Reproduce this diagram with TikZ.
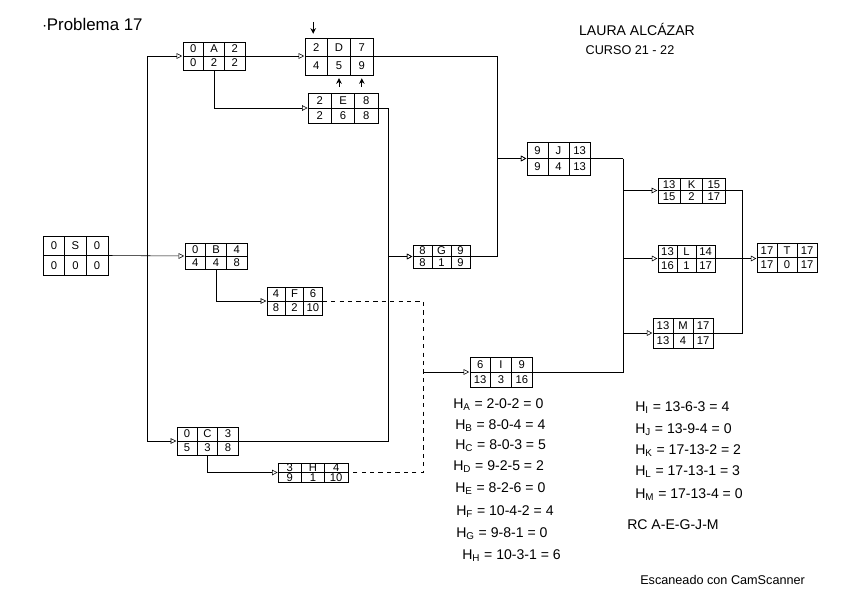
\documentclass[tikz,border=0pt]{standalone}
\usepackage{fontspec}
\setmainfont{Liberation Sans}
\usepackage{tikz}
\usetikzlibrary{positioning,arrows.meta,calc,matrix}
\tikzset{
  act/.style 2 args={matrix of nodes,inner sep=0pt,column sep=-\pgflinewidth,row sep=-\pgflinewidth,
    nodes={draw,thin,inner sep=0pt,minimum width=#1mm,minimum height=#2mm,font=\footnotesize,anchor=center}},
  arr/.style={-{Triangle[open,length=4pt,width=4pt]},thin},
  dum/.style={thin,dashed},
  mk/.style={-{Stealth[length=4pt,width=4pt]},semithick},
  txt/.style={font=\normalsize,anchor=west,inner sep=0pt},
}
\begin{document}
\begin{tikzpicture}[x=0.025cm,y=-0.025cm]
\useasboundingbox (0,0) rectangle (848,599);
% headings
\node[txt,font=\large] (title) at (42,24) {$\cdot$Problema 17};
\node[font=\normalsize,inner sep=0pt] (name) at (637,29) {LAURA ALCÁZAR};
\node[font=\small,inner sep=0pt] (year) at (630,50) {CURSO 21 - 22};
% activities: ES / name / EF over LS / duration / LF
\matrix[act={5.4}{4.9}] (S) at (75.5,255.5) {0 & S & 0\\ 0 & 0 & 0\\};
\matrix[act={5.2}{3.5}] (A) at (214,56) {0 & A & 2\\ 0 & 2 & 2\\};
\matrix[act={5.7}{4.6}] (D) at (339,56.5) {2 & D & 7\\ 4 & 5 & 9\\};
\matrix[act={5.8}{3.75}] (E) at (343,108) {2 & E & 8\\ 2 & 6 & 8\\};
\matrix[act={5.2}{3.25}] (B) at (216,256) {0 & B & 4\\ 4 & 4 & 8\\};
\matrix[act={4.6}{3.5}] (F) at (294.5,301) {4 & F & 6\\ 8 & 2 & 10\\};
\matrix[act={5.1}{3.5}] (C) at (207.5,441) {0 & C & 3\\ 5 & 3 & 8\\};
\matrix[act={5.8}{2.4}] (H) at (313,472.5) {3 & H & 4\\ 9 & 1 & 10\\};
\matrix[act={4.75}{2.9}] (G) at (441.5,256.5) {8 & G & 9\\ 8 & 1 & 9\\};
\matrix[act={5.2}{3.75}] (I) at (501,372) {6 & I & 9\\ 13 & 3 & 16\\};
\matrix[act={5.25}{4.1}] (J) at (558.5,158.5) {9 & J & 13\\ 9 & 4 & 13\\};
\matrix[act={5.6}{3.1}] (K) at (691.5,190.5) {13 & K & 15\\ 15 & 2 & 17\\};
\matrix[act={4.75}{3.4}] (L) at (686.5,258.5) {13 & L & 14\\ 16 & 1 & 17\\};
\matrix[act={5}{3.75}] (M) at (683,333) {13 & M & 17\\ 13 & 4 & 17\\};
\matrix[act={5}{3.6}] (T) at (787,257.5) {17 & T & 17\\ 17 & 0 & 17\\};
% buses
\coordinate (sb) at (147,0);
\coordinate (eb) at (388,0);
\coordinate (ib) at (423,0);
\coordinate (jb) at (497,0);
\coordinate (kb) at (623,0);
\coordinate (tb) at (742,0);
% links
\draw[arr] (S.east) -- (B.west);
\draw[arr] (S.east -| sb) |- (A.west);
\draw[arr] (S.east -| sb) |- (C.west);
\draw[arr] (A.east) -- (A.east -| D.west);
\draw[arr] (A.south) |- (E.west);
\draw[arr] (B.south) |- (F.west);
\draw[arr] (C.south) |- (H.west);
\draw[arr] (E.east) -- (E.east -| eb) |- (G.west);
\draw[arr] (C.east) -- (C.east -| eb) |- (G.west);
\draw[arr] (D.east) -- (D.east -| jb) |- (J.west);
\draw[arr] (G.east) -- (G.east -| jb) |- (J.west);
\draw[dum] (F.east) -- (F.east -| ib) -- (H.east -| ib) -- (H.east);
\draw[arr] (I.west -| ib) -- (I.west);
\draw (J.east) -- (J.east -| kb);
\draw (I.east) -| (J.east -| kb);
\draw[arr] (J.east -| kb) |- (K.west);
\draw[arr] (L.west -| kb) -- (L.west);
\draw[arr] (M.west -| kb) -- (M.west);
\draw (K.east) -- (K.east -| tb) |- (M.east);
\draw[arr] (L.east) -- (L.east -| T.west);
% marks on D
\draw[mk] ($(D-1-1.north)+(-3,-16)$) -- ++(0,12);
\draw[mk] ($(D-2-2.south)+(0,12)$) -- ++(0,-9);
\draw[mk] ($(D-2-3.south)+(0,12)$) -- ++(0,-9);
% slacks
\node[txt] (ha) at (453,405) {H\textsubscript{A} = 2-0-2 = 0};
\node[txt] (hb) at (455,426) {H\textsubscript{B} = 8-0-4 = 4};
\node[txt] (hc) at (455,446) {H\textsubscript{C} = 8-0-3 = 5};
\node[txt] (hd) at (453,467) {H\textsubscript{D} = 9-2-5 = 2};
\node[txt] (he) at (455,489) {H\textsubscript{E} = 8-2-6 = 0};
\node[txt] (hf) at (456,512) {H\textsubscript{F} = 10-4-2 = 4};
\node[txt] (hg) at (456,534) {H\textsubscript{G} = 9-8-1 = 0};
\node[txt] (hh) at (462,556) {H\textsubscript{H} = 10-3-1 = 6};
\node[txt] (hi) at (635,408) {H\textsubscript{I} = 13-6-3 = 4};
\node[txt] (hj) at (635,430) {H\textsubscript{J} = 13-9-4 = 0};
\node[txt] (hk) at (635,451) {H\textsubscript{K} = 17-13-2 = 2};
\node[txt] (hl) at (635,472) {H\textsubscript{L} = 17-13-1 = 3};
\node[txt] (hm) at (635,495) {H\textsubscript{M} = 17-13-4 = 0};
\node[txt] (rc) at (627,525) {RC A-E-G-J-M};
\node[txt,font=\small] (scan) at (640,580) {Escaneado con CamScanner};
\end{tikzpicture}
\end{document}
